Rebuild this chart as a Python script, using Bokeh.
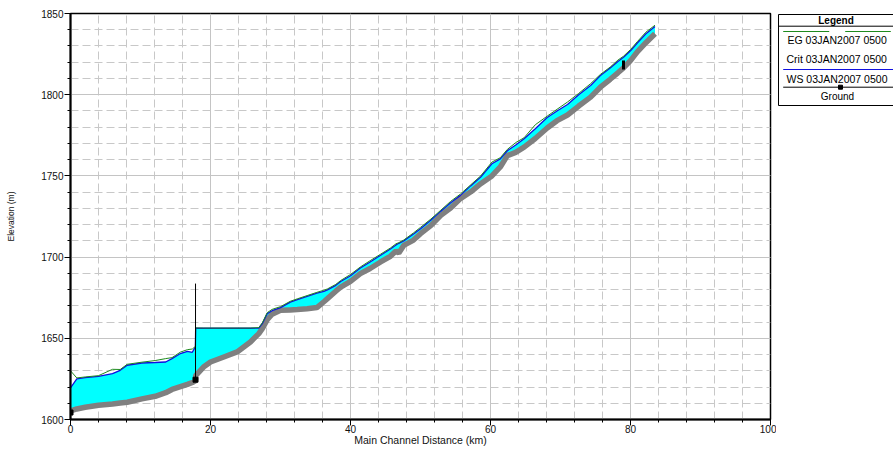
from bokeh.plotting import figure
from bokeh.layouts import row
from bokeh.models import FixedTicker, Range1d
from bokeh.core.properties import value
from bokeh.embed import file_html
from bokeh.resources import INLINE

# ---------------- data ----------------
station_km = [0.0, 0.9, 2.1, 4.0, 6.0, 7.1, 8.1, 10.2, 12.1, 13.6, 14.5, 15.7, 16.7, 17.4, 17.84,
              17.88, 19.0, 20.0, 21.9, 23.8, 25.7, 26.9, 27.4, 28.1, 28.8, 30.0, 31.4, 32.4, 33.8,
              35.2, 36.2, 36.7, 37.9, 38.6, 40.0, 41.4, 42.8, 44.3, 45.7, 46.5, 46.9, 47.6, 49.0,
              50.0, 51.5, 52.9, 54.3, 55.7, 57.2, 58.6, 60.2, 61.4, 62.4, 63.6, 64.8, 66.4, 68.1,
              69.5, 71.0, 72.6, 74.3, 75.7, 77.1, 78.2, 79.0, 80.0, 81.0, 82.2, 83.5]

ground_m = [1605.3, 1606.5, 1607.5, 1608.8, 1609.6, 1610.2, 1610.6, 1612.7, 1614.3, 1616.5, 1618.5,
            1620.2, 1621.6, 1622.8, 1623.8,
            1627.0, 1632.3, 1635.4, 1638.5, 1641.6, 1647.7, 1652.9, 1656.0, 1661.5, 1664.8, 1667.2,
            1667.5, 1667.7, 1668.2, 1668.9, 1672.5, 1674.4, 1679.0, 1681.5, 1685.0, 1689.8, 1693.0,
            1697.0, 1700.5, 1703.8, 1702.5, 1707.2, 1710.5, 1714.4, 1719.5, 1725.7, 1730.2, 1736.0,
            1740.2, 1745.2, 1750.0, 1755.5, 1762.5, 1764.5, 1767.7, 1773.0, 1779.5, 1784.0, 1787.5,
            1793.0, 1798.5, 1804.6, 1809.5, 1813.5, 1816.5, 1821.0, 1826.5, 1832.0, 1837.5]

ws_m = [1619.5, 1625.0, 1625.8, 1626.6, 1628.3, 1630.3, 1633.4, 1634.8, 1635.1, 1635.4, 1637.5,
        1640.6, 1642.0, 1641.4, 1644.7,
        1656.2, 1656.2, 1656.2, 1656.2, 1656.2, 1656.2, 1656.3, 1659.0, 1665.2, 1667.0, 1668.9,
        1672.3, 1673.8, 1675.8, 1677.8, 1678.9, 1679.8, 1682.6, 1685.0, 1688.5, 1693.3, 1697.0,
        1701.1, 1705.0, 1707.5, 1708.5, 1710.0, 1714.2, 1717.5, 1722.8, 1728.3, 1733.5, 1738.0,
        1744.0, 1749.3, 1757.5, 1760.5, 1765.5, 1769.0, 1772.9, 1779.0, 1786.0, 1790.0, 1794.0,
        1800.0, 1805.7, 1811.8, 1816.5, 1820.5, 1823.1, 1827.0, 1832.0, 1837.5, 1842.0]

eg_m = [1630.0, 1625.6, 1626.2, 1627.0, 1630.9, 1630.8, 1634.0, 1635.3, 1636.3, 1637.5, 1638.1,
        1641.5, 1643.0, 1643.4, 1645.0,
        1656.4, 1656.3, 1656.3, 1656.3, 1656.3, 1656.3, 1656.6, 1659.5, 1665.8, 1667.8, 1669.5,
        1672.8, 1674.3, 1676.3, 1678.3, 1679.6, 1680.4, 1683.2, 1685.6, 1689.3, 1693.9, 1697.8,
        1701.8, 1705.6, 1708.2, 1708.9, 1710.5, 1714.9, 1718.3, 1723.5, 1728.9, 1734.3, 1738.8,
        1744.6, 1750.0, 1758.5, 1761.2, 1766.3, 1770.5, 1773.5, 1781.5, 1786.8, 1791.0, 1795.5,
        1800.8, 1806.8, 1812.5, 1817.0, 1821.3, 1823.7, 1827.8, 1832.8, 1838.5, 1842.8]

# inline structures: weir at 17.86 km, bridge at 79.0 km
struct_km = [17.86, 79.0]
struct_low_m = [1624.5, 1815.5]
struct_high_m = [1683.7, 1821.0]
struct_width = [1, 3]
marker_km = [0.0, 17.86]
marker_m = [1604.3, 1624.5]

x_ticks = [0, 20, 40, 60, 80, 100]
x_minor = list(range(0, 101, 4))
y_ticks = [1600, 1650, 1700, 1750, 1800, 1850]
y_minor = list(range(1600, 1851, 10))

legend_labels = ["EG  03JAN2007 0500", "Crit  03JAN2007 0500", "WS  03JAN2007 0500", "Ground"]

FONT = "Liberation Sans"

# ---------------- main profile plot ----------------
p = figure(width=776, height=455, output_backend="svg", toolbar_location=None,
           x_range=Range1d(0, 100), y_range=Range1d(1600, 1850),
           min_border_left=70, min_border_top=13, min_border_right=6, min_border_bottom=36,
           background_fill_color="white", border_fill_color="white")
p.outline_line_color = "black"
p.outline_line_width = 1.5

xt = FixedTicker(ticks=x_ticks, minor_ticks=x_minor)
yt = FixedTicker(ticks=y_ticks, minor_ticks=y_minor)
p.xaxis.ticker = xt
p.yaxis.ticker = yt
p.xgrid.ticker = xt
p.ygrid.ticker = yt

for g in (p.xgrid, p.ygrid):
    g.grid_line_color = "#c4c4c4"
    g.grid_line_width = 1
    g.minor_grid_line_color = "#c8c8c8"
    g.minor_grid_line_dash = "8 4"
    g.minor_grid_line_width = 1

for ax in (p.xaxis, p.yaxis):
    ax.axis_line_color = "black"
    ax.axis_line_width = 2
    ax.major_tick_line_color = "black"
    ax.minor_tick_line_color = "black"
    ax.major_tick_in = 0
    ax.minor_tick_in = 0
    ax.major_tick_out = 6
    ax.minor_tick_out = 3
    ax.major_label_text_font = FONT
    ax.major_label_text_font_size = "10px"
    ax.major_label_text_color = "#111111"
    ax.axis_label_text_font = FONT
    ax.axis_label_text_font_style = "normal"
    ax.axis_label_text_color = "#111111"

p.xaxis.axis_label = "Main Channel Distance (km)"
p.xaxis.axis_label_text_font_size = "10.5px"
p.xaxis.major_label_standoff = -1
p.xaxis.axis_label_standoff = -2

p.yaxis.axis_label = "Elevation (m)"
p.yaxis.axis_label_text_font_size = "8.5px"
p.yaxis.major_label_standoff = 1
p.yaxis.axis_label_standoff = 22

# water between ground and water surface
p.varea(x=station_km, y1=ground_m, y2=ws_m, fill_color="#00FFFF")
# ground (thick grey band)
p.line(station_km, ground_m, line_color="#808080", line_width=5.5)
# water surface
p.line(station_km, ws_m, line_color="#1010e0", line_width=1.3)
# energy grade line
p.line(station_km, eg_m, line_color="#1e8a1e", line_width=1)
# structures
p.segment(x0=struct_km, y0=struct_low_m, x1=struct_km, y1=struct_high_m,
          line_color="black", line_width=struct_width)
p.scatter(marker_km, marker_m, marker="square", size=5, color="black")

# ---------------- legend panel ----------------
# the row aligns this panel's frame with the main frame (page y 13..419),
# so the y range is expressed directly in page pixels
leg = figure(width=117, height=455, output_backend="svg", toolbar_location=None,
             x_range=Range1d(0, 117), y_range=Range1d(419, 13),
             x_axis_location=None, y_axis_location=None,
             min_border=0, min_border_top=13, min_border_bottom=36,
             outline_line_color=None,
             background_fill_color="white", border_fill_color="white")
leg.grid.visible = False

leg.quad(left=[2], right=[140], top=[14], bottom=[105], fill_color="white", line_color="black", line_width=1)
leg.text(x=[59.5], y=[20], text=["Legend"], text_font=value(FONT), text_font_size="10px",
         text_font_style="bold", text_align="center", text_baseline="middle", text_color="black")
leg.segment(x0=[2], y0=[25.7], x1=[140], y1=[25.7], line_color="black", line_width=1)
# EG symbol (green), WS (blue), Ground (black with marker)
leg.segment(x0=[6.7, 68.7], y0=[31, 31], x1=[52.7, 114.3], y1=[31, 31], line_color="#1e8a1e", line_width=1.2)
leg.segment(x0=[6.7], y0=[69], x1=[140], y1=[69], line_color="#1010e0", line_width=1.2)
leg.segment(x0=[6.7], y0=[86.7], x1=[140], y1=[86.7], line_color="black", line_width=1)
leg.scatter([64], [86.7], marker="square", size=4, color="black")

leg.text(x=[11, 10, 10], y=[39.5, 58.5, 78], text=legend_labels[:3], text_font=value(FONT),
         text_font_size="10.5px", text_align="left", text_baseline="middle", text_color="black")
leg.text(x=[61], y=[95.5], text=[legend_labels[3]], text_font=value(FONT),
         text_font_size="10px", text_align="center", text_baseline="middle", text_color="black")

layout = row(p, leg)
open("out.html", "w").write(file_html(layout, INLINE))
